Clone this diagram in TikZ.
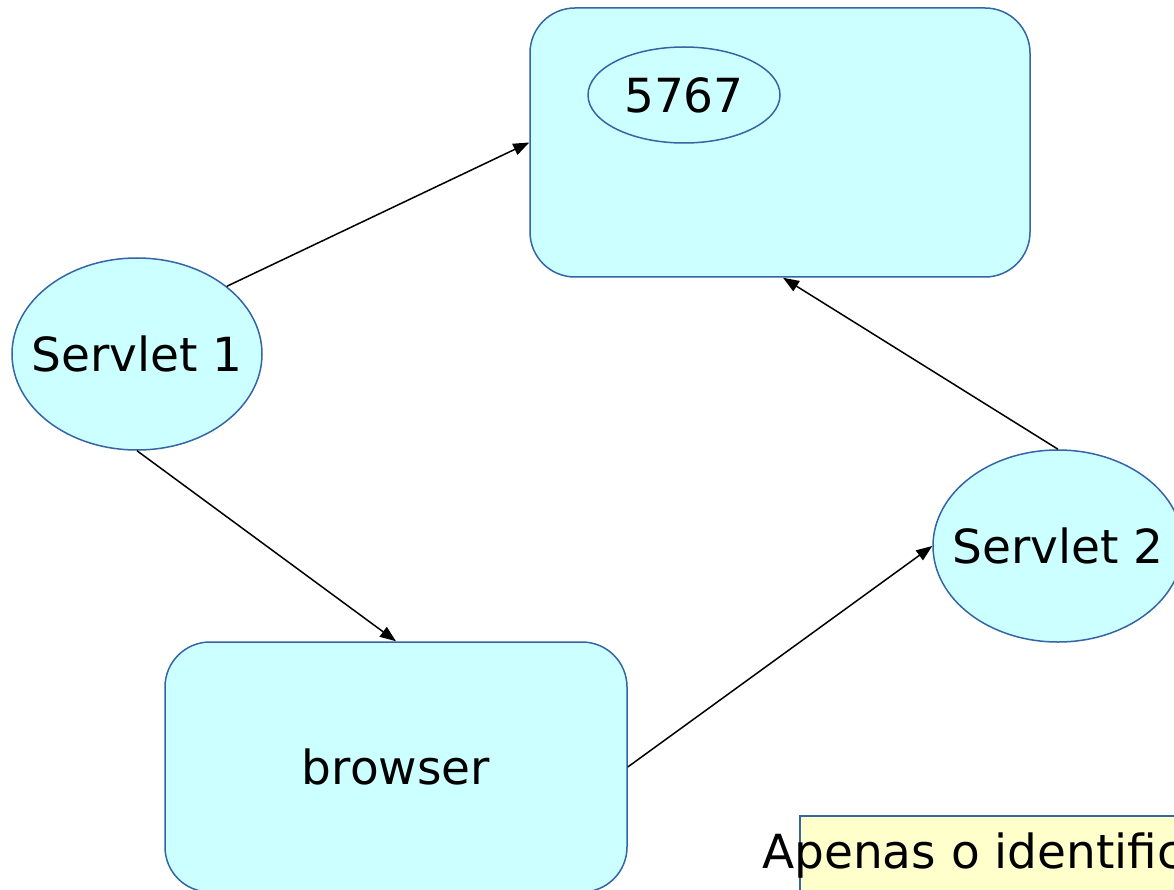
\documentclass[tikz,border=0pt]{standalone}
\usepackage{fontspec}
\setmainfont{DejaVu Sans}
\usetikzlibrary{shapes.geometric,arrows.meta}
\definecolor{cyanfill}{RGB}{204,255,255}
\definecolor{bluedraw}{RGB}{52,101,164}
\definecolor{notefill}{RGB}{255,255,204}
\tikzset{
  txt/.style={font=\fontsize{47}{56}\selectfont},
  roundbox/.style={draw=bluedraw, line width=1.5pt, fill=cyanfill, rounded corners=45pt, inner sep=0pt, txt},
  oval/.style={ellipse, draw=bluedraw, line width=1.5pt, fill=cyanfill, inner sep=0pt},
  conn/.style={line width=1.5pt, -{Triangle[length=16pt,width=12pt]}},
}
\begin{document}
\begin{tikzpicture}[x=1pt,y=-1pt]
\useasboundingbox (0,0) rectangle (1174,890);
\clip (0,0) rectangle (1174,890);
\fill[white] (0,0) rectangle (1174,890);
% top box
\node[roundbox, minimum width=500pt, minimum height=269pt] (top) at (780,142.5) {};
\node[oval, minimum width=192pt, minimum height=96pt] (port) at (684,95) {};
\node[txt, inner sep=0pt] (porttxt) at (port.center) {5767};
% servlets
\node[oval, minimum width=250pt, minimum height=192pt] (s1) at (137,354) {};
\node[txt, inner sep=0pt] (s1txt) at (s1.center) {Servlet 1};
\node[oval, minimum width=250pt, minimum height=192pt] (s2) at (1058,546) {};
\node[txt, inner sep=0pt] (s2txt) at (s2.center) {Servlet 2};
% browser
\node[roundbox, minimum width=462pt, minimum height=250pt] (br) at (396,767) {browser};
% note
\node[draw=bluedraw, line width=1.5pt, fill=notefill, minimum width=420pt, minimum height=120pt, inner sep=0pt, anchor=north west] (note) at (799,815) {};
\node[txt, anchor=base west, inner sep=0pt] (notetxt) at (762,868) {Apenas o identificador};
% connectors
\draw[conn] (s1.37) -- (top.west);
\draw[conn] (s1.south) -- (br.north);
\draw[conn] (br.east) -- (s2.west);
\draw[conn] (s2.north) -- ([xshift=3pt]top.south);
\end{tikzpicture}
\end{document}
